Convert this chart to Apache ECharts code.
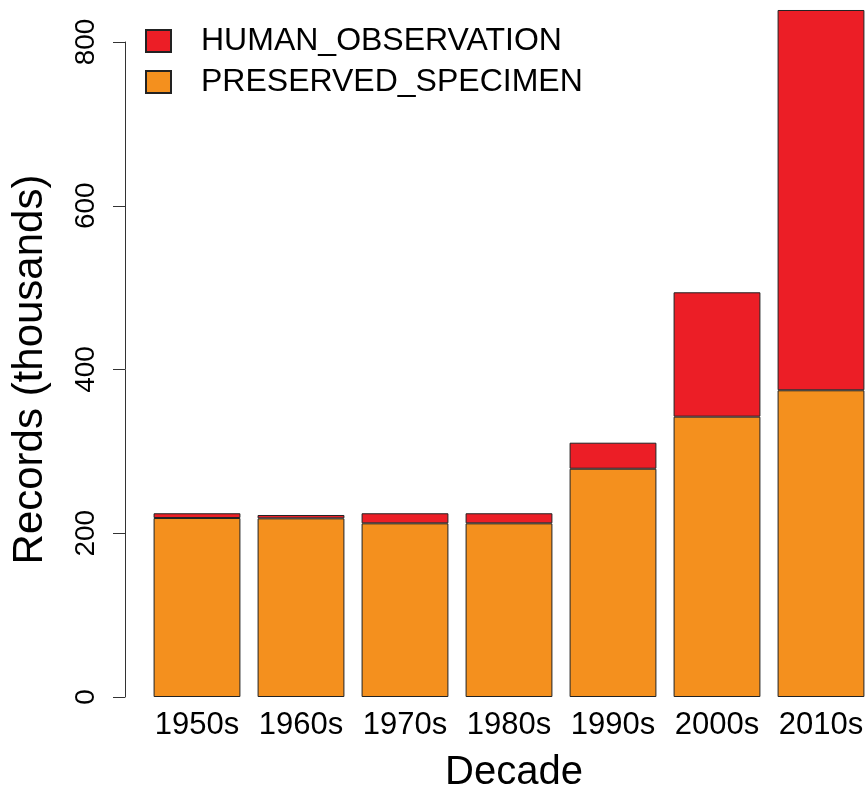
<!DOCTYPE html>
<html>
<head>
<meta charset="utf-8">
<script src="https://cdn.jsdelivr.net/npm/echarts@6/dist/echarts.min.js"></script>
<style>
html,body{margin:0;padding:0;background:#fff;}
#chart{width:865px;height:794px;}
</style>
</head>
<body>
<div id="chart"></div>
<script>
const decades = ['1950s','1960s','1970s','1980s','1990s','2000s','2010s'];
const preservedSpecimen = [218.6, 218.2, 212.1, 212.1, 278.8, 342.4, 374.6];
const humanObservation = [5.8, 4.1, 12.3, 12.3, 31.8, 151.9, 464.5];
const yTicks = [0, 200, 400, 600, 800];

const FONT = '"Liberation Sans", Arial, Helvetica, sans-serif';
const chart = echarts.init(document.getElementById('chart'), null, {renderer: 'canvas'});
chart.setOption({
  animation: false,
  backgroundColor: '#ffffff',
  textStyle: {fontFamily: FONT},
  legend: {
    orient: 'vertical',
    left: 145,
    top: 25,
    padding: 0,
    itemWidth: 25,
    itemHeight: 22,
    itemGap: 9,
    icon: 'rect',
    data: ['HUMAN_OBSERVATION', 'PRESERVED_SPECIMEN'],
    textStyle: {fontFamily: FONT, fontSize: 32, color: '#000', padding: [0, 0, 0, 25]}
  },
  grid: {left: 145, top: 42, bottom: 97, width: 728, outerBoundsMode: 'none', containLabel: false},
  xAxis: {
    type: 'category',
    data: decades,
    axisLine: {show: false},
    axisTick: {show: false},
    axisLabel: {fontFamily: FONT, fontSize: 31, color: '#000', margin: 13, interval: 0},
    name: 'Decade',
    nameLocation: 'middle',
    nameGap: 56,
    nameTextStyle: {fontFamily: FONT, fontSize: 40, color: '#000', padding: [0, 0, 0, 10]}
  },
  yAxis: {
    type: 'value',
    min: 0,
    max: 800,
    interval: 200,
    offset: 20,
    splitLine: {show: false},
    axisLine: {show: true, lineStyle: {color: '#333', width: 1}},
    axisTick: {show: true, length: 12, lineStyle: {color: '#333', width: 1}},
    axisLabel: {
      fontFamily: FONT, fontSize: 28, color: '#000', rotate: 90, margin: 25,
      formatter: v => yTicks.includes(v) ? String(v) : ''
    },
    name: 'Records (thousands)',
    nameLocation: 'middle',
    nameGap: 74,
    nameTextStyle: {fontFamily: FONT, fontSize: 42, color: '#000'}
  },
  series: [
    {
      name: 'PRESERVED_SPECIMEN',
      type: 'bar',
      stack: 'total',
      clip: false,
      barCategoryGap: '16.5%',
      data: preservedSpecimen,
      itemStyle: {color: '#F4901E', borderColor: '#222', borderWidth: 1}
    },
    {
      name: 'HUMAN_OBSERVATION',
      type: 'bar',
      stack: 'total',
      clip: false,
      barCategoryGap: '16.5%',
      data: humanObservation,
      itemStyle: {color: '#EC1E26', borderColor: '#222', borderWidth: 1}
    }
  ]
});
</script>
</body>
</html>
